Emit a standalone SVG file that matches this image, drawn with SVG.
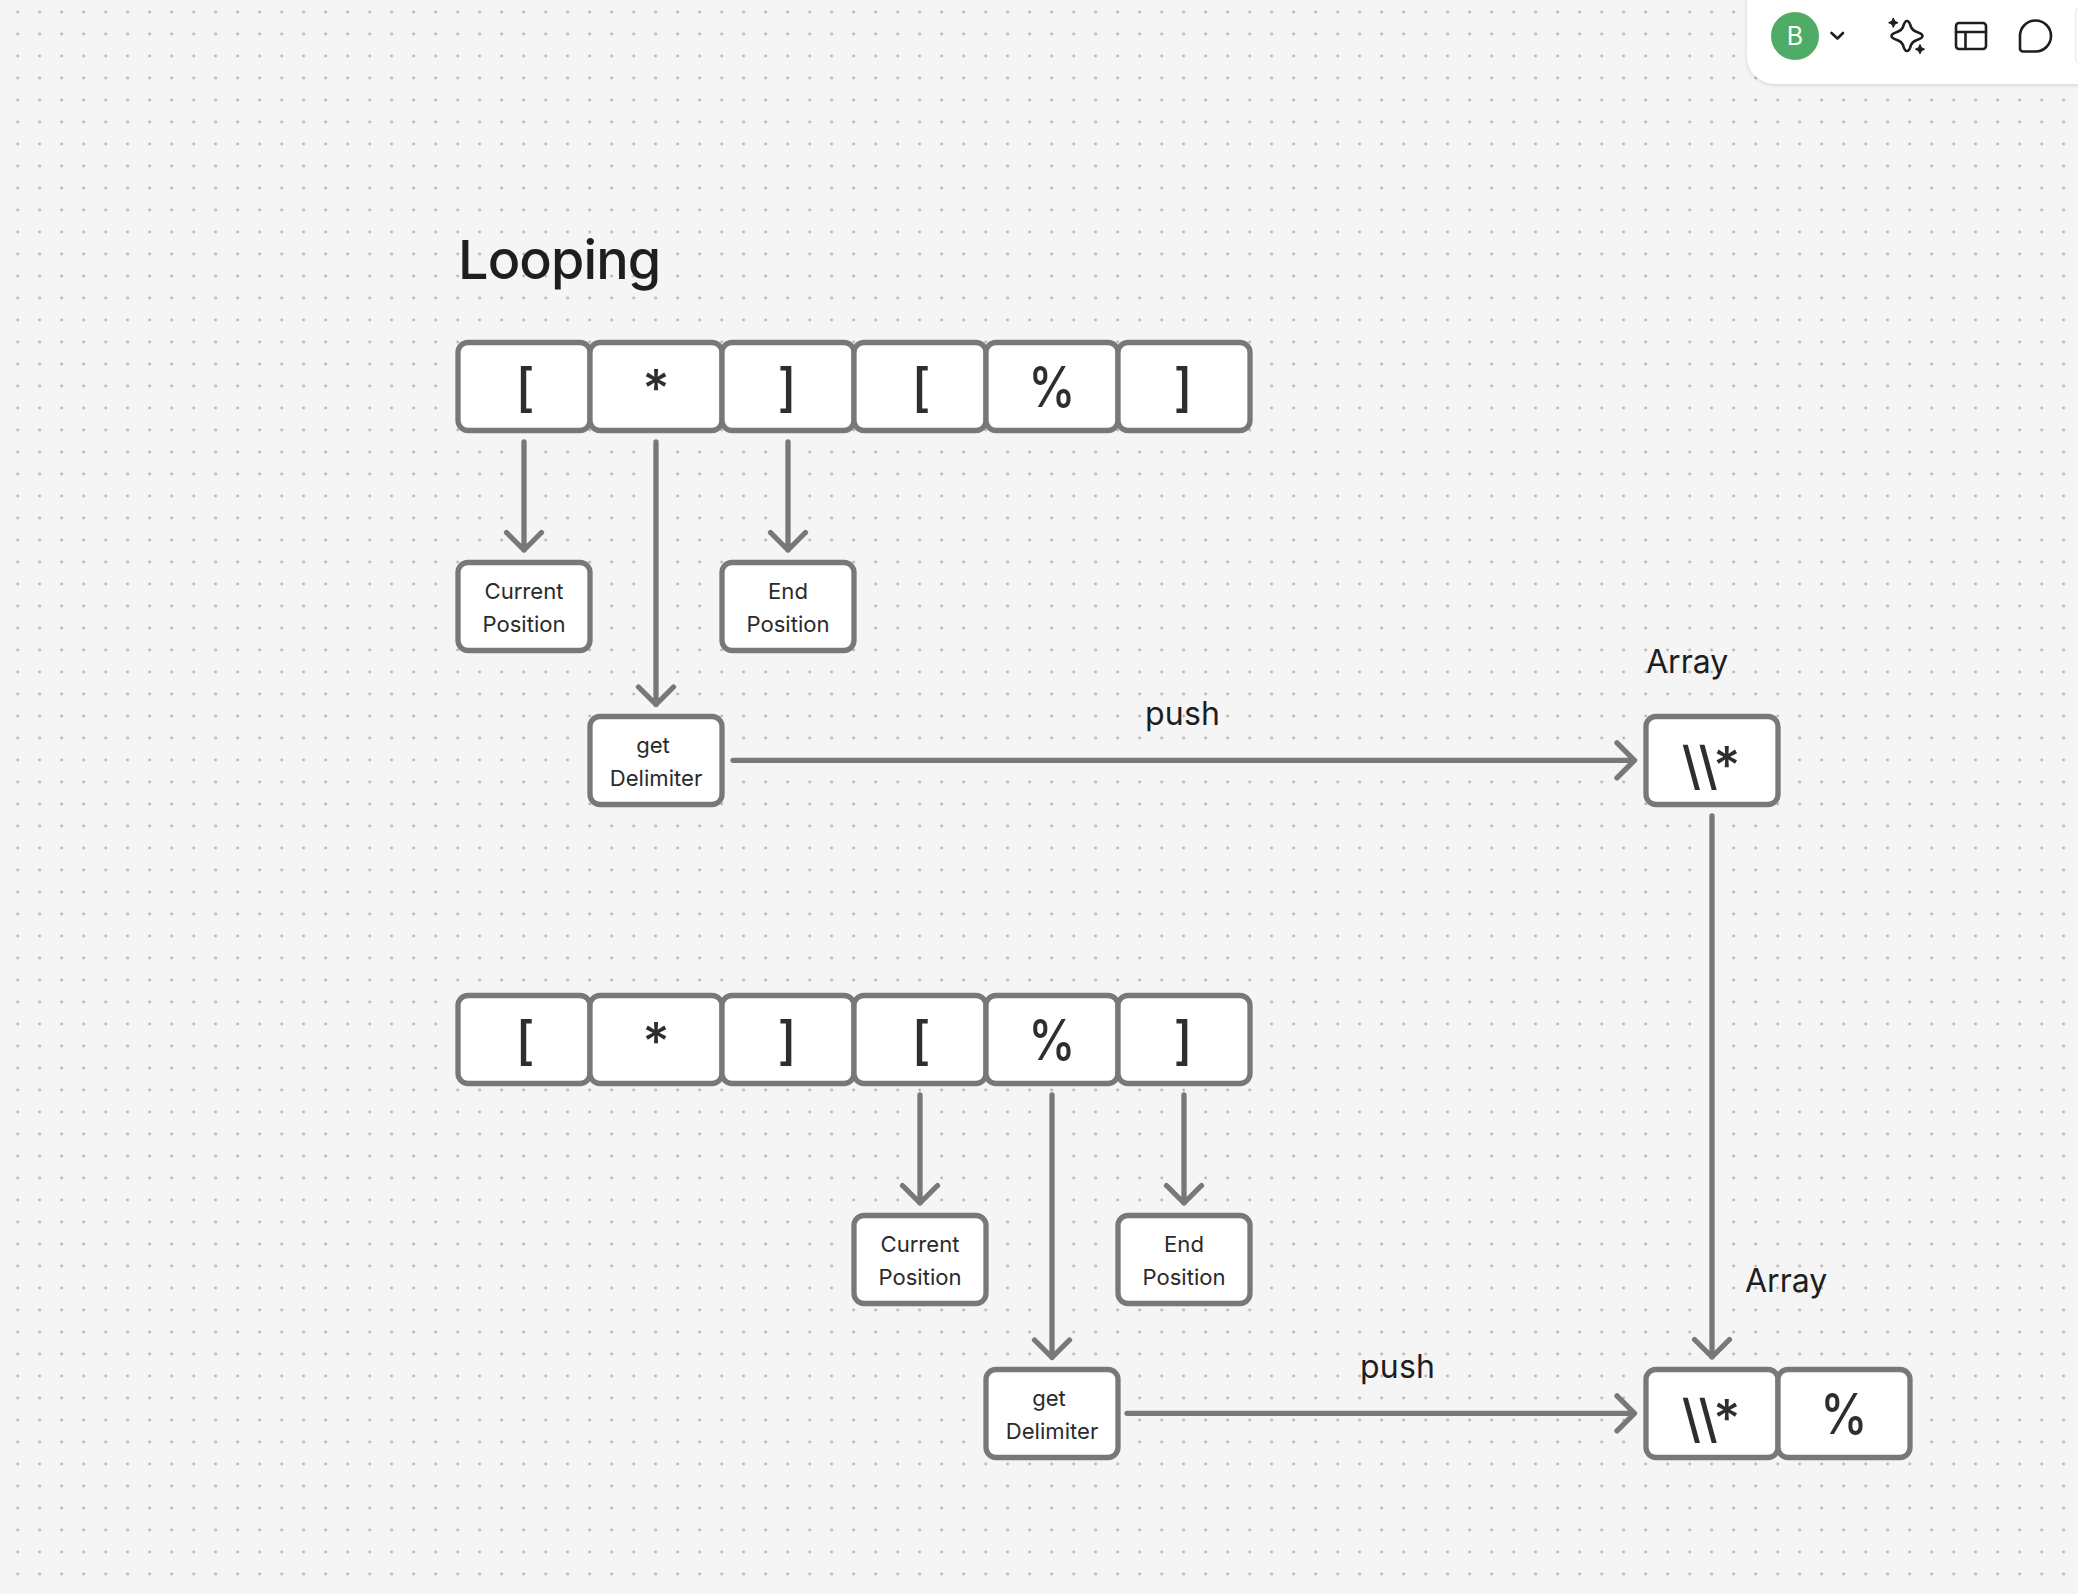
<svg xmlns="http://www.w3.org/2000/svg" width="2078" height="1594" viewBox="0 0 2078 1594">
<style>
text{font-family:Inter,"Liberation Sans",sans-serif;fill:#1e1e1e}
.n{fill:#fff;stroke:#787878;stroke-width:5.3}
.c{font-size:52px;font-weight:500;fill:#2e2e2e;text-anchor:middle}
.s{font-size:22.100px;fill:#2a2a2a;text-anchor:middle}
.l{font-size:32px;fill:#1e1e1e}
.a{fill:none;stroke:#787878;stroke-width:5.3;stroke-linecap:round;stroke-linejoin:round}
.i{fill:none;stroke:#1e1e1e;stroke-width:2.6;stroke-linejoin:round;stroke-linecap:round}
</style>
<defs>
<pattern id="dots" width="22" height="22" patternUnits="userSpaceOnUse" x="6.67" y="1">
<circle cx="11" cy="11" r="1.4" fill="#b4b4b4"/>
</pattern>
<filter id="sh" x="-10%" y="-20%" width="120%" height="150%"><feDropShadow dx="0" dy="1" stdDeviation="2" flood-color="#000" flood-opacity=".15"/></filter>
<g id="cell"><rect class="n" width="132" height="88" rx="10"/></g>
</defs>
<rect width="2078" height="1594" fill="#f5f5f5"/>
<rect width="2078" height="1594" fill="url(#dots)"/>
<g id="title"><text class="l" x="458" y="279" style="font-size:54px;font-weight:500;letter-spacing:-.9px">Looping</text></g>
<g id="row1">
<g id="r1c0"><use href="#cell" x="458" y="342.500"/><text class="c" x="525" y="406">[</text></g>
<g id="r1c1"><use href="#cell" x="590" y="342.500"/><text class="c" x="656" y="407">*</text></g>
<g id="r1c2"><use href="#cell" x="722" y="342.500"/><text class="c" x="787" y="406">]</text></g>
<g id="r1c3"><use href="#cell" x="854" y="342.500"/><text class="c" x="921" y="406">[</text></g>
<g id="r1c4"><use href="#cell" x="986" y="342.500"/><text class="c" transform="translate(1052 407) scale(.85 1)" style="font-size:56px">%</text></g>
<g id="r1c5"><use href="#cell" x="1118" y="342.500"/><text class="c" x="1183" y="406">]</text></g>
</g>
<g id="row2">
<g id="r2c0"><use href="#cell" x="458" y="995.500"/><text class="c" x="525" y="1059">[</text></g>
<g id="r2c1"><use href="#cell" x="590" y="995.500"/><text class="c" x="656" y="1060">*</text></g>
<g id="r2c2"><use href="#cell" x="722" y="995.500"/><text class="c" x="787" y="1059">]</text></g>
<g id="r2c3"><use href="#cell" x="854" y="995.500"/><text class="c" x="921" y="1059">[</text></g>
<g id="r2c4"><use href="#cell" x="986" y="995.500"/><text class="c" transform="translate(1052 1060) scale(.85 1)" style="font-size:56px">%</text></g>
<g id="r2c5"><use href="#cell" x="1118" y="995.500"/><text class="c" x="1183" y="1059">]</text></g>
</g>
<g id="cur1"><use href="#cell" x="458" y="562.500"/><text class="s" x="524" y="598.700">Current</text><text class="s" x="524" y="631.700">Position</text></g>
<g id="end1"><use href="#cell" x="722" y="562.500"/><text class="s" x="788" y="598.700">End</text><text class="s" x="788" y="631.700">Position</text></g>
<g id="get1"><use href="#cell" x="590" y="716.500"/><text class="s" x="653" y="752.700">get</text><text class="s" x="656" y="785.700">Delimiter</text></g>
<g id="cur2"><use href="#cell" x="854" y="1215.500"/><text class="s" x="920" y="1251.700">Current</text><text class="s" x="920" y="1284.700">Position</text></g>
<g id="end2"><use href="#cell" x="1118" y="1215.500"/><text class="s" x="1184" y="1251.700">End</text><text class="s" x="1184" y="1284.700">Position</text></g>
<g id="get2"><use href="#cell" x="986" y="1369.500"/><text class="s" x="1049" y="1405.700">get</text><text class="s" x="1052" y="1438.700">Delimiter</text></g>
<g id="arr1"><use href="#cell" x="1646" y="716.500"/><text class="c" x="1711" y="784">\\*</text></g>
<g id="arr2a"><use href="#cell" x="1646" y="1369.500"/><text class="c" x="1711" y="1437">\\*</text></g>
<g id="arr2b"><use href="#cell" x="1778" y="1369.500"/><text class="c" transform="translate(1844 1434) scale(.85 1)" style="font-size:56px">%</text></g>
<g id="labels">
<text class="l" x="1646" y="673">Array</text>
<text class="l" x="1745" y="1291.500">Array</text>
<text class="l" x="1145" y="725" style="letter-spacing:.2px">push</text>
<text class="l" x="1360" y="1377.500" style="letter-spacing:.2px">push</text>
</g>
<g id="connectors">
<path class="a" d="M524 442V550M506.500 532.500 524 550 541.500 532.500"/>
<path class="a" d="M656 442V704.500M638.500 687 656 704.500 673.500 687"/>
<path class="a" d="M788 442V550M770.500 532.500 788 550 805.500 532.500"/>
<path class="a" d="M733 760.300H1634.500M1617 742.800 1634.500 760.300 1617 777.800"/>
<path class="a" d="M1712 816V1357M1694.500 1339.500 1712 1357 1729.500 1339.500"/>
<path class="a" d="M920 1095V1203M902.500 1185.500 920 1203 937.500 1185.500"/>
<path class="a" d="M1052 1095V1357.500M1034.500 1340 1052 1357.500 1069.500 1340"/>
<path class="a" d="M1184 1095V1203M1166.500 1185.500 1184 1203 1201.500 1185.500"/>
<path class="a" d="M1127 1413.300H1634.500M1617 1395.800 1634.500 1413.300 1617 1430.800"/>
</g>
<g id="toolbar">
<rect x="1747" y="-40" width="400" height="124" rx="28" fill="#fff" filter="url(#sh)"/>
<rect x="2075.500" y="7" width="12" height="57" rx="6" fill="none" stroke="#ececec" stroke-width="1.500"/>
<circle cx="1795" cy="36" r="24" fill="#4fac66"/>
<text x="1795" y="45" text-anchor="middle" style="font-size:25px;fill:#fff">B</text>
<path class="i" d="M1831.500 33 1837.500 38.500 1843 33"/>
<path class="i" d="M1907 21c2.500 0 3 3 4 6 1 2.500 3 4 6 5 3 1 5.500 2 5.500 4s-2.500 3-5.500 4c-3 1-5 2.500-6 5-1 3-1.500 6-4 6s-3-3-4-6c-1-2.500-3-4-6-5-3-1-5.500-2-5.500-4s2.500-3 5.500-4c3-1 5-2.500 6-5 1-3 1.500-6 4-6z"/>
<path d="M1893.300 18l1.500 3.200 3.200 1.500-3.200 1.500-1.500 3.200-1.500-3.200-3.200-1.500 3.200-1.500zM1920 44.500l1.500 3.200 3.200 1.500-3.200 1.500-1.500 3.200-1.500-3.200-3.200-1.500 3.200-1.500z" fill="#1e1e1e" stroke="#1e1e1e" stroke-width="1" stroke-linejoin="round"/>
<rect class="i" x="1956" y="23" width="30" height="26" rx="3"/>
<path class="i" d="M1956 32H1986M1965.500 32V49"/>
<path class="i" d="M2020 36a15.500 15.500 0 1 1 15.500 15.500H2023a3 3 0 0 1-3-3z"/>
</g>
</svg>
